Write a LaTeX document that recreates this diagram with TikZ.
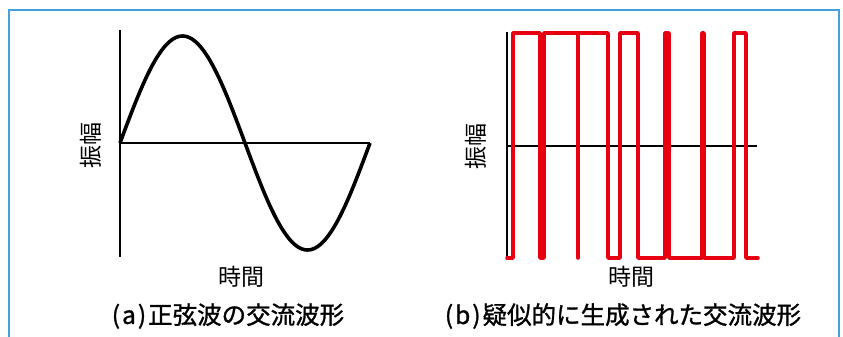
\documentclass[tikz,border=0pt]{standalone}
\usepackage{fontspec}
\setmainfont{Noto Sans CJK JP}
\newfontfamily\capfont{Noto Sans CJK JP}[FakeBold=1.2]
\usepackage{xcolor}
\usepackage{tikz}
\usetikzlibrary{arrows.meta, positioning}
\definecolor{framecol}{RGB}{70,160,220}
\definecolor{pwmred}{RGB}{230,0,18}

\begin{document}
\begin{tikzpicture}[
        x=1pt, y=-1pt,
        frame/.style={draw=framecol, line width=1.5pt},
        axis/.style={draw, line width=1.6pt},
        sinewave/.style={draw, line width=3.6pt, line join=round},
        pwmwave/.style={draw=pwmred, line width=3.5pt, line join=round, line cap=round},
        lbl/.style={font=\fontsize{23}{26}\selectfont, inner sep=0pt},
        caption/.style={font=\capfont\fontsize{24.5}{28}\selectfont, inner sep=0pt}
    ]
        \useasboundingbox (0,0) rectangle (843,337);
        \draw[frame] (9,337) -- (9,10) -- (839,10) -- (839,337);

        % (a) sine wave
        \coordinate (a-top) at (120,30);
        \coordinate (a-bot) at (120,257);
        \coordinate (a-org) at (120,143);
        \coordinate (a-end) at (370,143);
        \draw[axis] (a-top) -- (a-bot);
        \draw[axis] (a-org) -- (a-end);
        \draw[sinewave] plot[domain=0:250, samples=120, smooth] ({120+\x}, {143-107*sin(1.44*\x)});

        \node[lbl, rotate=90] (ampA) at (91,145) {振幅};
        \node[lbl] (timeA) at (241,277) {時間};
        \node[caption] (capA) at (228,316) {(\kern2pt a\kern2pt)\kern2pt 正弦波の交流波形};

        % (b) pulse train
        \coordinate (b-top) at (507,32);
        \coordinate (b-bot) at (507,258);
        \coordinate (b-org) at (507,146);
        \coordinate (b-end) at (757,146);
        \draw[axis] (b-top) -- (b-bot);
        \draw[axis] (b-org) -- (b-end);
        \draw[pwmwave] (507,258) -- (513,258) -- (513,33) -- (540,33) -- (540,258)
            -- (544,258) -- (544,33) -- (578,33) -- (578,258) -- (578,33)
            -- (608,33) -- (608,258) -- (620,258) -- (620,33) -- (638,33)
            -- (638,258) -- (665,258) -- (665,33) -- (669,33) -- (669,258)
            -- (702,258) -- (702,33) -- (704,33) -- (704,258) -- (734,258)
            -- (734,33) -- (746,33) -- (746,258) -- (758,258);

        \node[lbl, rotate=90] (ampB) at (476,146) {振幅};
        \node[lbl] (timeB) at (631,277) {時間};
        \node[caption] (capB) at (623,316) {(\kern2pt b\kern2pt)\kern2pt 疑似的に生成された交流波形};
    \end{tikzpicture}
\end{document}
